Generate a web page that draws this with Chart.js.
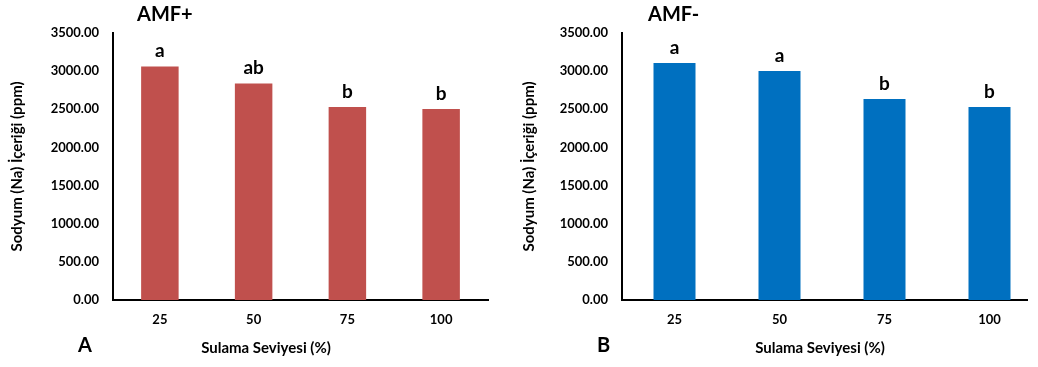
<!doctype html>
<html>
<head>
    <title>Sodyum (Na) İçeriği</title>
    <script src="https://cdn.jsdelivr.net/npm/chart.js@4/dist/chart.umd.min.js"></script>
    <style>
        html, body{
            margin: 0px;
            width: 1038px;
            height: 367px;
            overflow: hidden;
            background: #fff;
        }
        .panel{
            position: absolute;
            top: 0px;
            height: 367px;
            overflow: hidden;
        }
    </style>
</head>
<body>
    <div class="panel" style="left: 0px; width: 519px;">
        <canvas id="chartA" width="519" height="367"></canvas>
    </div>
    <div class="panel" style="left: 520px; width: 508px;">
        <canvas id="chartB" width="530" height="367"></canvas>
    </div>

    <script>
        var categories = ['25', '50', '75', '100'];
        var yTicks = [0, 500, 1000, 1500, 2000, 2500, 3000, 3500];

        var amfPlus = [3062, 2839, 2529, 2503];
        var amfPlusLetters = ['a', 'ab', 'b', 'b'];

        var amfMinus = [3106, 3001, 2634, 2529];
        var amfMinusLetters = ['a', 'a', 'b', 'b'];

        var xTitle = 'Sulama Seviyesi (%)';
        var yTitle = 'Sodyum (Na) İçeriği (ppm)';

        var FONT = 'Lato';

        // letters over bars, panel title / letter, x title (sits off-centre in the original)
        var annotate = {
            id: 'annotate',
            afterDatasetsDraw: function(chart, args, opts){
                var ctx = chart.ctx;
                var meta = chart.getDatasetMeta(0);
                ctx.save();
                ctx.fillStyle = '#000';
                ctx.textAlign = 'center';
                ctx.textBaseline = 'alphabetic';
                ctx.font = 'bold 19px ' + FONT;
                for(var i = 0; i < meta.data.length; ++i){
                    var bar = meta.data[i];
                    ctx.fillText(opts.letters[i], bar.x, bar.y - 9);
                }
                ctx.textBaseline = 'middle';
                ctx.font = 'bold 15px ' + FONT;
                ctx.fillText(xTitle, opts.xTitleX, 348);
                ctx.textAlign = 'left';
                ctx.font = 'bold 20px ' + FONT;
                ctx.fillText(opts.title, opts.titleX, 15);
                ctx.fillText(opts.panel, opts.panelX, 346);
                ctx.restore();
            }
        };

        function makeChart(id, values, letters, color, o){
            var ctx = document.getElementById(id).getContext('2d');
            return new Chart(ctx, {
                type: 'bar',
                data: {
                    labels: categories,
                    datasets: [{
                        data: values,
                        backgroundColor: color,
                        barPercentage: 0.4,
                        categoryPercentage: 1.0
                    }]
                },
                plugins: [annotate],
                options: {
                    responsive: false,
                    animation: false,
                    layout: { padding: { top: 33, right: o.padRight, left: 0, bottom: 0 } },
                    plugins: {
                        legend: { display: false },
                        tooltip: { enabled: false },
                        annotate: {
                            letters: letters,
                            title: o.title,
                            titleX: o.titleX,
                            panel: o.panel,
                            panelX: o.panelX,
                            xTitleX: o.xTitleX
                        }
                    },
                    scales: {
                        x: {
                            grid: { display: false, drawTicks: false },
                            border: { display: true, color: '#000', width: 2 },
                            ticks: {
                                color: '#000',
                                padding: 12,
                                font: { family: FONT, weight: 'bold', size: 13 }
                            },
                            afterFit: function(scale){ scale.height = 67; }
                        },
                        y: {
                            min: 0,
                            max: 3500,
                            grid: { display: false, drawTicks: false },
                            border: { display: true, color: '#000', width: 2 },
                            afterBuildTicks: function(scale){
                                scale.ticks = yTicks.map(function(v){ return { value: v }; });
                            },
                            ticks: {
                                color: '#000',
                                padding: 14,
                                font: { family: FONT, weight: 'bold', size: 13 },
                                callback: function(v){ return Number(v).toFixed(2); }
                            },
                            title: {
                                display: true,
                                text: yTitle,
                                color: '#000',
                                padding: { top: o.yTitlePad, bottom: 0 },
                                font: { family: FONT, weight: 'bold', size: 15 }
                            },
                            afterFit: function(scale){ scale.width = o.yWidth; }
                        }
                    }
                }
            });
        }

        window.onload = function(){
            window.chartA = makeChart('chartA', amfPlus, amfPlusLetters, '#C0504D', {
                padRight: 31, yWidth: 113, yTitlePad: 8,
                title: 'AMF+', titleX: 137, panel: 'A', panelX: 78, xTitleX: 266
            });
            window.chartB = makeChart('chartB', amfMinus, amfMinusLetters, '#0070C0', {
                padRight: 8, yWidth: 102, yTitlePad: 0,
                title: 'AMF-', titleX: 128, panel: 'B', panelX: 77, xTitleX: 300
            });
        };
    </script>
</body>
</html>
